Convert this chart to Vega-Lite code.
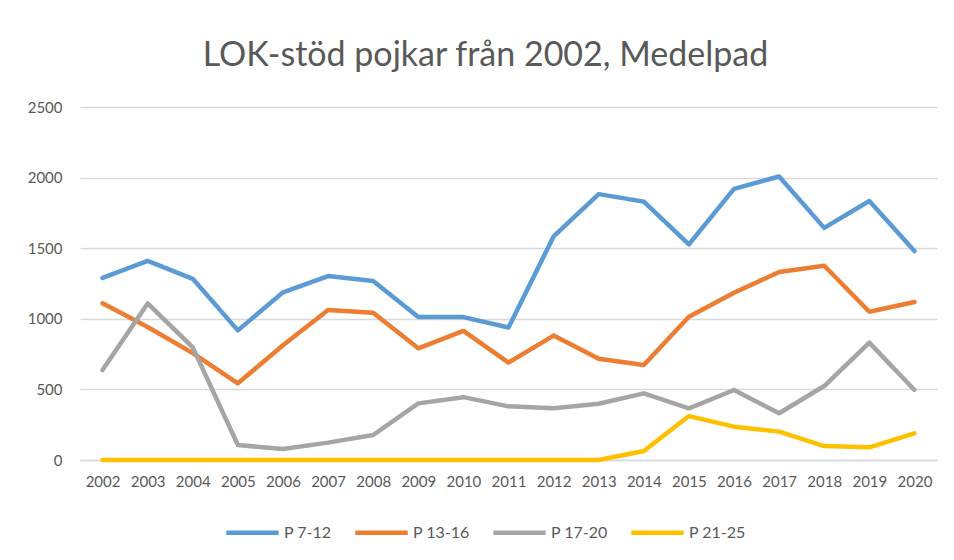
{
  "$schema": "https://vega.github.io/schema/vega-lite/v6.json",
  "width": 857,
  "height": 353,
  "autosize": "none",
  "padding": {"left": 80, "top": 107, "right": 17, "bottom": 100},
  "background": "white",
  "title": {
    "text": "LOK-stöd pojkar från 2002, Medelpad",
    "font": "Lato",
    "fontSize": 34,
    "fontWeight": "normal",
    "color": "#595959",
    "anchor": "middle",
    "dx": -23,
    "offset": 27
  },
  "data": {
    "values": [
      {"year": "2002", "series": "P 7-12", "value": 1290},
      {"year": "2003", "series": "P 7-12", "value": 1410},
      {"year": "2004", "series": "P 7-12", "value": 1283},
      {"year": "2005", "series": "P 7-12", "value": 918},
      {"year": "2006", "series": "P 7-12", "value": 1187},
      {"year": "2007", "series": "P 7-12", "value": 1303},
      {"year": "2008", "series": "P 7-12", "value": 1268},
      {"year": "2009", "series": "P 7-12", "value": 1012},
      {"year": "2010", "series": "P 7-12", "value": 1012},
      {"year": "2011", "series": "P 7-12", "value": 938},
      {"year": "2012", "series": "P 7-12", "value": 1583},
      {"year": "2013", "series": "P 7-12", "value": 1883},
      {"year": "2014", "series": "P 7-12", "value": 1830},
      {"year": "2015", "series": "P 7-12", "value": 1527},
      {"year": "2016", "series": "P 7-12", "value": 1920},
      {"year": "2017", "series": "P 7-12", "value": 2008},
      {"year": "2018", "series": "P 7-12", "value": 1644},
      {"year": "2019", "series": "P 7-12", "value": 1834},
      {"year": "2020", "series": "P 7-12", "value": 1480},
      {"year": "2002", "series": "P 13-16", "value": 1110},
      {"year": "2003", "series": "P 13-16", "value": 942},
      {"year": "2004", "series": "P 13-16", "value": 757},
      {"year": "2005", "series": "P 13-16", "value": 543},
      {"year": "2006", "series": "P 13-16", "value": 812},
      {"year": "2007", "series": "P 13-16", "value": 1062},
      {"year": "2008", "series": "P 13-16", "value": 1043},
      {"year": "2009", "series": "P 13-16", "value": 791},
      {"year": "2010", "series": "P 13-16", "value": 914},
      {"year": "2011", "series": "P 13-16", "value": 690},
      {"year": "2012", "series": "P 13-16", "value": 881},
      {"year": "2013", "series": "P 13-16", "value": 717},
      {"year": "2014", "series": "P 13-16", "value": 673},
      {"year": "2015", "series": "P 13-16", "value": 1015},
      {"year": "2016", "series": "P 13-16", "value": 1185},
      {"year": "2017", "series": "P 13-16", "value": 1331},
      {"year": "2018", "series": "P 13-16", "value": 1376},
      {"year": "2019", "series": "P 13-16", "value": 1050},
      {"year": "2020", "series": "P 13-16", "value": 1119},
      {"year": "2002", "series": "P 17-20", "value": 637},
      {"year": "2003", "series": "P 17-20", "value": 1109},
      {"year": "2004", "series": "P 17-20", "value": 798},
      {"year": "2005", "series": "P 17-20", "value": 106},
      {"year": "2006", "series": "P 17-20", "value": 78},
      {"year": "2007", "series": "P 17-20", "value": 123},
      {"year": "2008", "series": "P 17-20", "value": 177},
      {"year": "2009", "series": "P 17-20", "value": 401},
      {"year": "2010", "series": "P 17-20", "value": 445},
      {"year": "2011", "series": "P 17-20", "value": 380},
      {"year": "2012", "series": "P 17-20", "value": 366},
      {"year": "2013", "series": "P 17-20", "value": 398},
      {"year": "2014", "series": "P 17-20", "value": 472},
      {"year": "2015", "series": "P 17-20", "value": 366},
      {"year": "2016", "series": "P 17-20", "value": 496},
      {"year": "2017", "series": "P 17-20", "value": 331},
      {"year": "2018", "series": "P 17-20", "value": 524},
      {"year": "2019", "series": "P 17-20", "value": 831},
      {"year": "2020", "series": "P 17-20", "value": 496},
      {"year": "2002", "series": "P 21-25", "value": 0},
      {"year": "2003", "series": "P 21-25", "value": 0},
      {"year": "2004", "series": "P 21-25", "value": 0},
      {"year": "2005", "series": "P 21-25", "value": 0},
      {"year": "2006", "series": "P 21-25", "value": 0},
      {"year": "2007", "series": "P 21-25", "value": 0},
      {"year": "2008", "series": "P 21-25", "value": 0},
      {"year": "2009", "series": "P 21-25", "value": 0},
      {"year": "2010", "series": "P 21-25", "value": 0},
      {"year": "2011", "series": "P 21-25", "value": 0},
      {"year": "2012", "series": "P 21-25", "value": 0},
      {"year": "2013", "series": "P 21-25", "value": 0},
      {"year": "2014", "series": "P 21-25", "value": 64},
      {"year": "2015", "series": "P 21-25", "value": 311},
      {"year": "2016", "series": "P 21-25", "value": 236},
      {"year": "2017", "series": "P 21-25", "value": 201},
      {"year": "2018", "series": "P 21-25", "value": 99},
      {"year": "2019", "series": "P 21-25", "value": 90},
      {"year": "2020", "series": "P 21-25", "value": 189}
    ]
  },
  "mark": {"type": "line", "strokeWidth": 4.5, "strokeCap": "round", "strokeJoin": "round"},
  "encoding": {
    "x": {
      "field": "year",
      "type": "ordinal",
      "scale": {"type": "point", "padding": 0.5},
      "axis": {
        "title": null,
        "labelAngle": 0,
        "labelFont": "Lato",
        "labelFontSize": 15,
        "labelColor": "#595959",
        "labelPadding": 14,
        "ticks": false,
        "domainColor": "#d9d9d9",
        "domainWidth": 1.5,
        "grid": false
      }
    },
    "y": {
      "field": "value",
      "type": "quantitative",
      "scale": {"domain": [0, 2500]},
      "axis": {
        "title": null,
        "values": [0, 500, 1000, 1500, 2000, 2500],
        "format": "d",
        "labelFont": "Lato",
        "labelFontSize": 15,
        "labelColor": "#595959",
        "labelPadding": 18,
        "ticks": false,
        "domain": false,
        "gridColor": "#d9d9d9",
        "gridWidth": 1.5
      }
    },
    "color": {
      "field": "series",
      "type": "nominal",
      "sort": ["P 7-12", "P 13-16", "P 17-20", "P 21-25"],
      "scale": {
        "domain": ["P 7-12", "P 13-16", "P 17-20", "P 21-25"],
        "range": ["#5B9BD5", "#ED7D31", "#A5A5A5", "#FFC000"]
      },
      "legend": {
        "title": null,
        "orient": "none",
        "direction": "horizontal",
        "legendX": 144,
        "legendY": 397,
        "symbolType": "stroke",
        "symbolSize": 2750,
        "symbolStrokeWidth": 4.5,
        "labelFont": "Lato",
        "labelFontSize": 16,
        "labelColor": "#595959",
        "labelOffset": 3,
        "columnPadding": 14,
        "labelLimit": 200
      }
    }
  },
  "config": {"view": {"stroke": null}}
}
